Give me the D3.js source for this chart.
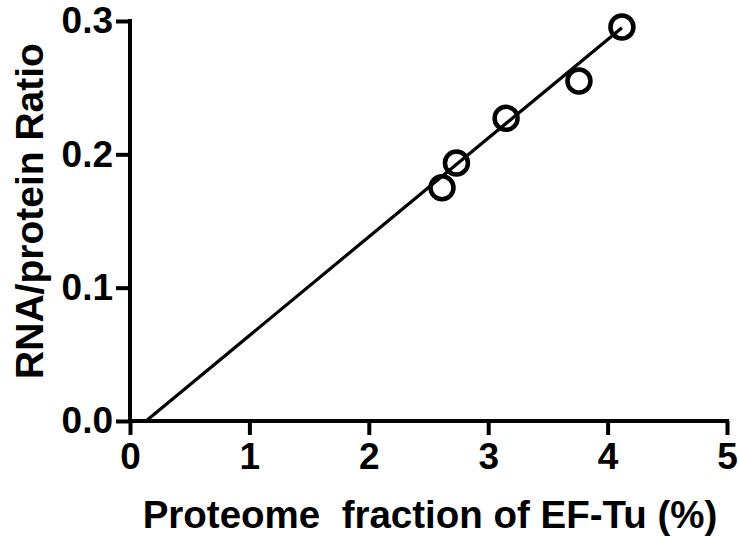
<!DOCTYPE html>
<html><head><meta charset="utf-8">
<script src="https://cdn.jsdelivr.net/npm/d3@7"></script>
<style>body{margin:0;background:#fff}</style>
</head><body>
<svg id="c" width="740" height="536"></svg>
<script>
const efTu = [2.613, 2.734, 3.15, 3.76, 4.12];
const rnaProtein = [0.175, 0.1935, 0.227, 0.255, 0.2955];
const fitX = [0.134, 4.12];
const fitY = [0, 0.295];
const xTicks = [0, 1, 2, 3, 4, 5];
const yTicks = [0.0, 0.1, 0.2, 0.3];
const xTitle = "Proteome\u00a0 fraction of EF-Tu (%)";
const yTitle = "RNA/protein Ratio";

const svg = d3.select("#c");
const x = d3.scaleLinear().domain([0, 5]).range([130, 727]);
const y = d3.scaleLinear().domain([0, 0.3]).range([421, 21]);
const font = "'Liberation Sans', Arial, sans-serif";

const xa = svg.append("g").attr("transform", "translate(0,421)")
  .call(d3.axisBottom(x).tickValues(xTicks).tickFormat(d3.format("d")).tickSize(14).tickPadding(8));
const ya = svg.append("g").attr("transform", "translate(130,0)")
  .call(d3.axisLeft(y).tickValues(yTicks).tickFormat(d3.format(".1f")).tickSize(14).tickPadding(3));
[xa, ya].forEach(a => {
  a.attr("font-size", null).attr("font-family", null);
  a.select(".domain").attr("stroke", "#000").attr("stroke-width", 4).attr("stroke-linecap", "square");
  a.selectAll(".tick line").attr("stroke", "#000").attr("stroke-width", 4);
  a.selectAll("text").style("font-family", font).style("font-weight", "bold").style("font-size", "37px").attr("fill", "#000");
});
xa.select(".domain").attr("d", `M${x(0)},0H${x(5)}`);
ya.select(".domain").attr("d", `M0,${y(0)}V${y(0.3)}`);

svg.append("path")
  .datum(fitX.map((v, i) => [v, fitY[i]]))
  .attr("d", d3.line().x(d => x(d[0])).y(d => y(d[1])))
  .attr("stroke", "#000").attr("stroke-width", 3.2).attr("fill", "none");

svg.append("g").selectAll("circle")
  .data(efTu.map((v, i) => [v, rnaProtein[i]]))
  .join("circle")
  .attr("cx", d => x(d[0])).attr("cy", d => y(d[1])).attr("r", 11.5)
  .attr("fill", "none").attr("stroke", "#000").attr("stroke-width", 4.5);

svg.append("text").attr("x", 430).attr("y", 528).attr("text-anchor", "middle")
  .style("font-family", font).style("font-weight", "bold").style("font-size", "38.5px").text(xTitle);
svg.append("text").attr("transform", "translate(43,211) rotate(-90)").attr("text-anchor", "middle")
  .style("font-family", font).style("font-weight", "bold").style("font-size", "39px").text(yTitle);
</script>
</body></html>
